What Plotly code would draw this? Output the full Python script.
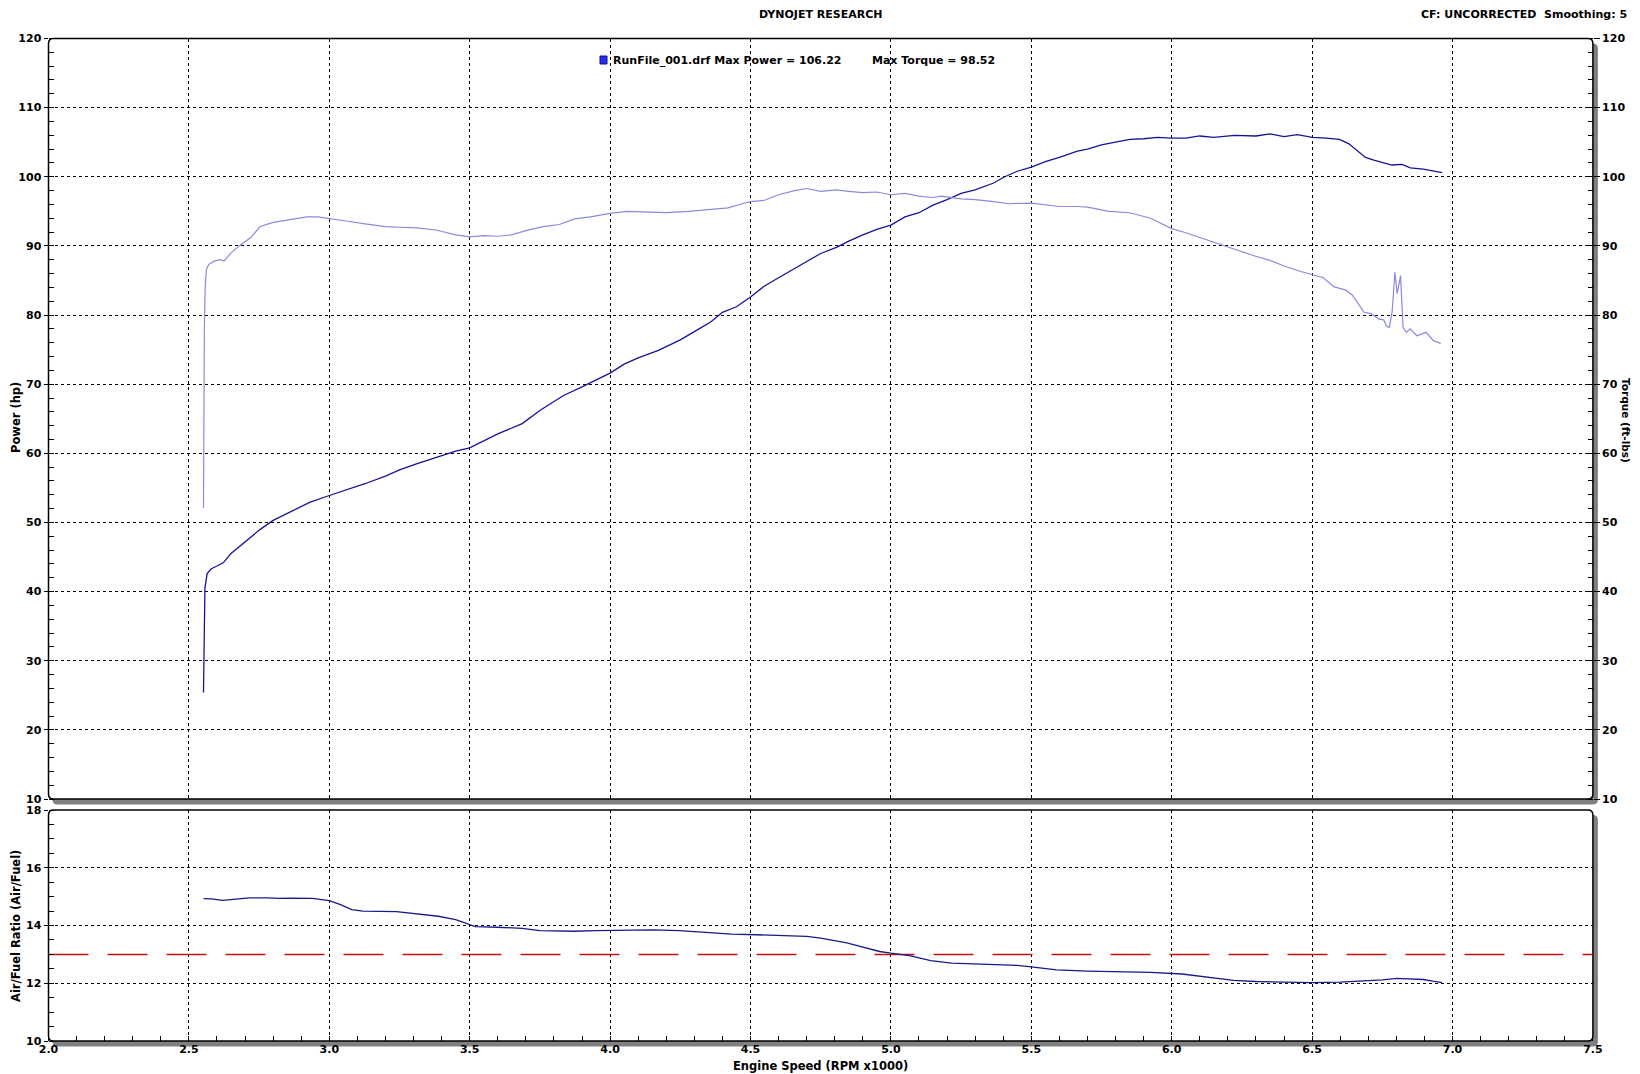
import plotly.graph_objects as go

# page is 1640x1074; the browser adds an 8px body margin, so the figure is 8px smaller
PAGE_W, PAGE_H = 1640, 1074
OFF = 8
FW, FH = PAGE_W - OFF, PAGE_H - OFF

# ---------------- data ----------------
power_rpm = [2.552, 2.554, 2.557, 2.565, 2.58, 2.60, 2.623, 2.65, 2.70, 2.754, 2.80, 2.866, 2.93, 3.0,
             3.06, 3.127, 3.20, 3.25, 3.313, 3.40, 3.45, 3.5, 3.55, 3.60, 3.687, 3.75, 3.80, 3.836,
             3.90, 4.0, 4.05, 4.10, 4.172, 4.25, 4.30, 4.358, 4.40, 4.45, 4.5, 4.55, 4.60, 4.657,
             4.70, 4.75, 4.806, 4.85, 4.90, 4.95, 5.0, 5.05, 5.10, 5.15, 5.20, 5.25, 5.30, 5.366,
             5.40, 5.45, 5.5, 5.55, 5.60, 5.664, 5.70, 5.75, 5.80, 5.851, 5.90, 5.95, 6.0, 6.05,
             6.10, 6.15, 6.224, 6.30, 6.35, 6.40, 6.448, 6.50, 6.55, 6.597, 6.63, 6.66, 6.69, 6.72,
             6.75, 6.784, 6.82, 6.85, 6.896, 6.93, 6.963]
power_hp = [25.4, 35.0, 40.5, 42.6, 43.3, 43.7, 44.2, 45.5, 47.2, 49.0, 50.3, 51.6, 52.9, 53.9,
            54.7, 55.6, 56.7, 57.6, 58.5, 59.6, 60.3, 60.8, 61.8, 62.8, 64.3, 66.2, 67.5, 68.4,
            69.6, 71.6, 72.9, 73.8, 74.9, 76.4, 77.6, 79.0, 80.4, 81.2, 82.6, 84.2, 85.4, 86.7,
            87.8, 88.9, 89.8, 90.7, 91.6, 92.4, 93.0, 94.2, 94.8, 95.9, 96.7, 97.6, 98.1, 99.1,
            99.9, 100.8, 101.4, 102.2, 102.8, 103.7, 104.0, 104.6, 105.0, 105.4, 105.5, 105.7, 105.6, 105.6,
            105.9, 105.7, 106.0, 105.9, 106.2, 105.8, 106.1, 105.7, 105.6, 105.4, 104.8, 103.8, 102.8, 102.4,
            102.1, 101.7, 101.8, 101.3, 101.1, 100.8, 100.6]

torque_rpm = [2.552, 2.553, 2.555, 2.558, 2.562, 2.57, 2.59, 2.61, 2.625, 2.65, 2.679, 2.72, 2.754, 2.80,
              2.866, 2.92, 2.96, 3.0, 3.06, 3.127, 3.2, 3.25, 3.313, 3.38, 3.45, 3.5, 3.55, 3.60,
              3.649, 3.70, 3.761, 3.82, 3.873, 3.93, 4.0, 4.06, 4.134, 4.20, 4.28, 4.358, 4.42, 4.47,
              4.5, 4.55, 4.60, 4.657, 4.70, 4.75, 4.806, 4.85, 4.90, 4.95, 5.0, 5.05, 5.10, 5.15,
              5.179, 5.25, 5.30, 5.366, 5.42, 5.5, 5.55, 5.60, 5.664, 5.70, 5.776, 5.85, 5.925, 6.0,
              6.05, 6.10, 6.149, 6.20, 6.25, 6.299, 6.35, 6.40, 6.46, 6.5, 6.54, 6.577, 6.62, 6.643,
              6.685, 6.71, 6.739, 6.755, 6.765, 6.775, 6.785, 6.795, 6.803, 6.815, 6.824, 6.836, 6.849,
              6.873, 6.906, 6.932, 6.958]
torque_ftlb = [52.1, 65.0, 78.0, 84.0, 86.5, 87.3, 87.8, 88.0, 87.8, 89.0, 90.0, 91.2, 92.8, 93.4,
               93.9, 94.2, 94.2, 94.0, 93.6, 93.2, 92.8, 92.7, 92.6, 92.3, 91.6, 91.3, 91.5, 91.4,
               91.6, 92.2, 92.8, 93.1, 93.9, 94.2, 94.7, 95.0, 94.9, 94.8, 95.0, 95.3, 95.5, 96.1,
               96.4, 96.6, 97.4, 98.0, 98.3, 97.9, 98.1, 97.9, 97.7, 97.8, 97.4, 97.6, 97.2, 97.0,
               97.2, 96.8, 96.7, 96.4, 96.1, 96.2, 96.0, 95.7, 95.7, 95.6, 95.0, 94.8, 94.0, 92.5,
               91.9, 91.2, 90.5, 89.8, 89.2, 88.5, 87.9, 87.1, 86.3, 85.9, 85.4, 84.1, 83.6, 82.9,
               80.4, 80.2, 79.4, 79.3, 78.4, 78.2, 80.5, 86.2, 83.1, 85.7, 78.2, 77.5, 78.0,
               77.0, 77.5, 76.3, 75.9]

afr_rpm = [2.552, 2.58, 2.62, 2.66, 2.716, 2.78, 2.82, 2.86, 2.94, 3.0, 3.04, 3.08, 3.12, 3.239,
           3.30, 3.388, 3.45, 3.48, 3.52, 3.60, 3.687, 3.75, 3.873, 3.95, 4.06, 4.15, 4.246, 4.35,
           4.433, 4.52, 4.62, 4.70, 4.75, 4.80, 4.843, 4.88, 4.918, 4.96, 5.0, 5.067, 5.10, 5.142,
           5.216, 5.30, 5.366, 5.45, 5.5, 5.59, 5.70, 5.776, 5.925, 6.037, 6.10, 6.149, 6.22, 6.299,
           6.40, 6.5, 6.60, 6.672, 6.75, 6.802, 6.85, 6.896, 6.93, 6.963]
afr_ratio = [14.93, 14.92, 14.87, 14.90, 14.96, 14.96, 14.94, 14.95, 14.94, 14.86, 14.72, 14.55, 14.50, 14.48,
             14.42, 14.32, 14.20, 14.10, 13.96, 13.94, 13.90, 13.82, 13.80, 13.82, 13.85, 13.85, 13.82, 13.74,
             13.70, 13.68, 13.66, 13.62, 13.56, 13.48, 13.40, 13.30, 13.20, 13.10, 13.04, 12.96, 12.88, 12.78,
             12.70, 12.67, 12.67, 12.62, 12.57, 12.46, 12.42, 12.40, 12.38, 12.32, 12.25, 12.17, 12.10, 12.06,
             12.03, 12.02, 12.04, 12.07, 12.12, 12.17, 12.14, 12.13, 12.07, 12.02]

target_rpm = [2.0, 7.5]
target_afr = [13.0, 13.0]

x_ticks = [2.0, 2.5, 3.0, 3.5, 4.0, 4.5, 5.0, 5.5, 6.0, 6.5, 7.0, 7.5]
power_ticks = [10, 20, 30, 40, 50, 60, 70, 80, 90, 100, 110, 120]
afr_ticks = [10, 12, 14, 16, 18]

title_text = "DYNOJET RESEARCH"
cf_text = "CF: UNCORRECTED  Smoothing: 5"
legend_text1 = "RunFile_001.drf Max Power = 106.22"
legend_text2 = "Max Torque = 98.52"

# ---------------- layout helpers (page pixels -> paper fractions) ----------------
def X(px):
    return (px - OFF) / FW

def Y(py):
    return 1 - (py - OFF) / FH

PL, PR = 48.5, 1592.9
T1, B1 = 38.5, 799.0
T2, B2 = 810.0, 1041.0

FONT = "DejaVu Sans"
POWER_C = "#14149a"
TORQUE_C = "#8a8ade"
AFR_C = "#1a1a8c"
GRID_C = "#000000"

fig = go.Figure()

fig.add_trace(go.Scatter(x=power_rpm, y=power_hp, mode="lines", line=dict(color=POWER_C, width=1.3),
                         xaxis="x", yaxis="y", showlegend=False))
fig.add_trace(go.Scatter(x=torque_rpm, y=torque_ftlb, mode="lines", line=dict(color=TORQUE_C, width=1.2),
                         xaxis="x", yaxis="y3", showlegend=False))
fig.add_trace(go.Scatter(x=target_rpm, y=target_afr, mode="lines",
                         line=dict(color="#cc1010", width=1.5, dash="40px,19px"),
                         xaxis="x2", yaxis="y2", showlegend=False))
fig.add_trace(go.Scatter(x=afr_rpm, y=afr_ratio, mode="lines", line=dict(color=AFR_C, width=1.3),
                         xaxis="x2", yaxis="y2", showlegend=False))


def rounded(l, t, r, b, rad):
    return (f"M {X(l)},{Y(t+rad)} Q {X(l)},{Y(t)} {X(l+rad)},{Y(t)} "
            f"L {X(r-rad)},{Y(t)} Q {X(r)},{Y(t)} {X(r)},{Y(t+rad)} "
            f"L {X(r)},{Y(b-rad)} Q {X(r)},{Y(b)} {X(r-rad)},{Y(b)} "
            f"L {X(l+rad)},{Y(b)} Q {X(l)},{Y(b)} {X(l)},{Y(b-rad)} Z")

shapes = []
for (t, b) in [(T1, B1), (T2, B2)]:
    shapes.append(dict(type="path", xref="paper", yref="paper", layer="below",
                       path=rounded(PL + 4, t + 5, PR + 5, b + 5.5, 5),
                       fillcolor="#808080", line=dict(width=0)))
    shapes.append(dict(type="path", xref="paper", yref="paper", layer="below",
                       path=rounded(PL, t, PR, b, 5),
                       fillcolor="#ffffff", line=dict(color="#000000", width=1.5)))
# legend swatch
shapes.append(dict(type="rect", xref="paper", yref="paper", layer="above",
                   x0=X(600), x1=X(607), y0=Y(64), y1=Y(56),
                   fillcolor="#2a2af0", line=dict(color="#10108a", width=1)))

tickfont = dict(family=FONT, size=11, color="#000000", weight="bold")
common_grid = dict(showgrid=True, gridcolor=GRID_C, gridwidth=1, griddash="3px,3px",
                   zeroline=False, showline=False, automargin=False)

fig.update_layout(
    width=FW, height=FH,
    margin=dict(l=0, r=0, t=0, b=0, autoexpand=False),
    paper_bgcolor="#ffffff", plot_bgcolor="#ffffff",
    shapes=shapes,
    xaxis=dict(domain=[X(PL), X(PR)], range=[2.0, 7.5], anchor="y", tickvals=x_ticks,
               showticklabels=False, ticks="", **common_grid),
    yaxis=dict(domain=[Y(B1), Y(T1)], range=[10, 120], anchor="x", tickvals=power_ticks,
               ticks="outside", ticklen=4, tickcolor="#000000", tickfont=tickfont,
               minor=dict(dtick=2, tick0=10, ticks="inside", ticklen=5, tickcolor="#000000", showgrid=False),
               **common_grid),
    yaxis3=dict(domain=[Y(B1), Y(T1)], range=[10, 120], anchor="x", overlaying="y", side="right",
                tickvals=power_ticks, ticks="outside", ticklen=6, tickcolor="#000000", tickfont=tickfont,
                minor=dict(dtick=2, tick0=10, ticks="inside", ticklen=5, tickcolor="#000000", showgrid=False),
                showgrid=False, zeroline=False, showline=False, automargin=False),
    xaxis2=dict(domain=[X(PL), X(PR)], range=[2.0, 7.5], anchor="y2", tickvals=x_ticks,
                tickformat=".1f", ticks="", tickfont=tickfont,
                minor=dict(dtick=0.1, tick0=2.0, ticks="inside", ticklen=5, tickcolor="#000000", showgrid=False),
                **common_grid),
    yaxis2=dict(domain=[Y(B2), Y(T2)], range=[10, 18], anchor="x2", tickvals=afr_ticks,
                ticks="outside", ticklen=4, tickcolor="#000000", tickfont=tickfont,
                minor=dict(dtick=0.5, tick0=10, ticks="inside", ticklen=5, tickcolor="#000000", showgrid=False),
                **common_grid),
)

ann_font = dict(family=FONT, size=11, color="#000000", weight="bold")
label_font = dict(family=FONT, size=11.5, color="#000000", weight="bold")
annotations = [
    dict(text=title_text, x=X(820), y=Y(15), xanchor="center", yanchor="middle", font=ann_font),
    dict(text=cf_text, x=X(1629), y=Y(15), xanchor="right", yanchor="middle", font=ann_font),
    dict(text=legend_text1, x=X(611), y=Y(61), xanchor="left", yanchor="middle",
         font=dict(family=FONT, size=11, color="#000000", weight="bold")),
    dict(text=legend_text2, x=X(870), y=Y(61), xanchor="left", yanchor="middle",
         font=dict(family=FONT, size=11, color="#000000", weight="bold")),
    dict(text="Power (hp)", x=X(16), y=Y(418), xanchor="center", yanchor="middle", textangle=-90,
         font=label_font),
    dict(text="Torque (ft-lbs)", x=X(1626), y=Y(420), xanchor="center", yanchor="middle", textangle=90,
         font=dict(family=FONT, size=10.5, color="#000000", weight="bold")),
    dict(text="Air/Fuel Ratio (Air/Fuel)", x=X(16), y=Y(926), xanchor="center", yanchor="middle",
         textangle=-90, font=label_font),
    dict(text="Engine Speed (RPM x1000)", x=X(820), y=Y(1066), xanchor="center", yanchor="middle",
         font=label_font),
]
for a in annotations:
    a.update(xref="paper", yref="paper", showarrow=False)
fig.update_layout(annotations=annotations)

fig.write_html("out.html")
